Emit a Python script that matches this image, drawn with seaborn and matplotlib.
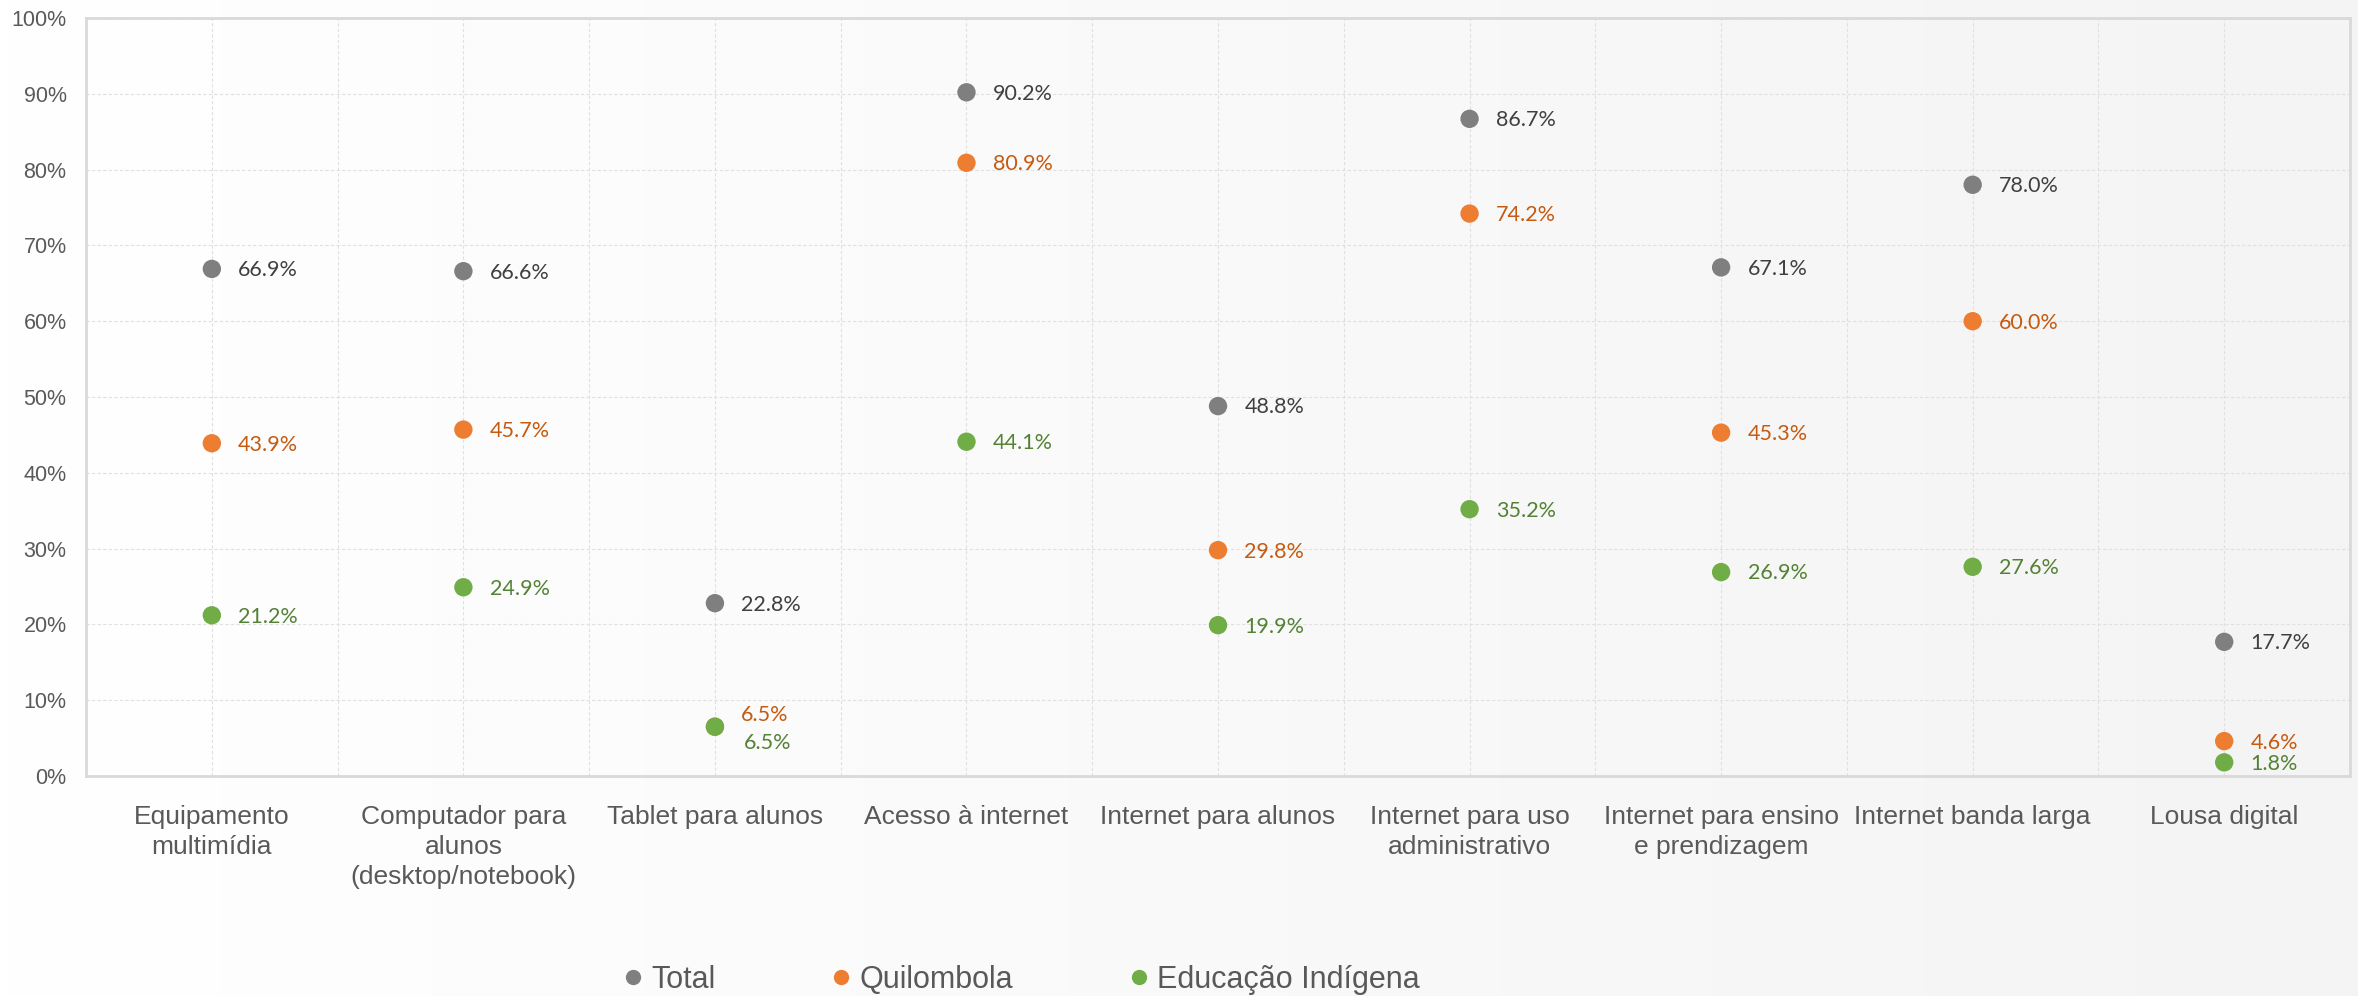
import numpy as np
import pandas as pd
import matplotlib.pyplot as plt
import seaborn as sns
from matplotlib.lines import Line2D
from matplotlib.colors import LinearSegmentedColormap

# Data
categories = ["Equipamento\nmultimídia", "Computador para\nalunos\n(desktop/notebook)",
              "Tablet para alunos", "Acesso à internet", "Internet para alunos",
              "Internet para uso\nadministrativo", "Internet para ensino\ne prendizagem",
              "Internet banda larga", "Lousa digital"]
total = [66.9, 66.6, 22.8, 90.2, 48.8, 86.7, 67.1, 78.0, 17.7]
quilombola = [43.9, 45.7, 6.5, 80.9, 29.8, 74.2, 45.3, 60.0, 4.6]
indigena = [21.2, 24.9, 6.5, 44.1, 19.9, 35.2, 26.9, 27.6, 1.8]
series_names = ["Total", "Quilombola", "Educação Indígena"]

colors = {"Total": "#7f7f7f", "Quilombola": "#ed7d31", "Educação Indígena": "#70ad47"}
label_colors = {"Total": "#404040", "Quilombola": "#c55a11", "Educação Indígena": "#548235"}

rows = []
for name, vals in zip(series_names, [total, quilombola, indigena]):
    for i, v in enumerate(vals):
        rows.append({"pos": i, "value": v, "serie": name})
df = pd.DataFrame(rows)

sns.set_style("white")
plt.rcParams["font.family"] = ["Liberation Sans", "DejaVu Sans"]

fig = plt.figure(figsize=(23.58, 9.96), dpi=100)

# faint background wash (white on the left, light grey on the right)
bg = fig.add_axes([0, 0, 1, 1], zorder=-10)
wash = LinearSegmentedColormap.from_list("wash", ["#ffffff", "#f4f4f4"])
grad = np.linspace(0, 1, 256).reshape(1, -1)
bg.imshow(grad, aspect="auto", cmap=wash, extent=[0, 1, 0, 1])
bg.axis("off")

ax = fig.add_axes([0.0365, 0.2209, 0.9601, 0.761])
ax.set_facecolor("none")

sns.scatterplot(data=df, x="pos", y="value", hue="serie", palette=colors,
                s=175, edgecolor="none", legend=False, ax=ax, zorder=3)

# data labels
offsets = {}
offsets[("Quilombola", 2)] = (19, 8.5)
offsets[("Educação Indígena", 2)] = (21, -11.5)
for name, vals in zip(series_names, [total, quilombola, indigena]):
    for i, v in enumerate(vals):
        dx, dy = offsets.get((name, i), (19, -1))
        ax.annotate(f"{v:.1f}%", (i, v), xytext=(dx, dy), textcoords="offset points",
                    ha="left", va="center", fontsize=15.5, color=label_colors[name],
                    family=["Lato", "DejaVu Sans"], zorder=4)

ax.set_xlim(-0.5, 8.5)
ax.set_ylim(0, 100)
ax.set_xticks(range(len(categories)))
ax.set_xticklabels(categories, fontsize=19, color="#595959", linespacing=1.3)
ax.set_xticks(np.arange(-0.5, 9, 1), minor=True)
ax.set_yticks(range(0, 101, 10))
ax.set_yticklabels([f"{t}%" for t in range(0, 101, 10)], fontsize=15.5, color="#595959")
ax.tick_params(axis="x", which="both", length=0, pad=21)
ax.tick_params(axis="y", length=0, pad=14)
ax.set_xlabel("")
ax.set_ylabel("")

ax.grid(True, which="major", axis="both", color="#e0e0e0", linestyle=(0, (3, 2)), linewidth=0.8)
ax.grid(True, which="minor", axis="x", color="#e0e0e0", linestyle=(0, (3, 2)), linewidth=0.8)
ax.set_axisbelow(True)
for sp in ax.spines.values():
    sp.set_visible(True)
    sp.set_color("#d9d9d9")
    sp.set_linewidth(2)

handles = [Line2D([0], [0], marker="o", linestyle="", markersize=11,
                  markerfacecolor=colors[n], markeredgecolor="none") for n in series_names]
fig.legend(handles, series_names, loc="center", bbox_to_anchor=(0.4334, 0.016), ncol=3,
           frameon=False, fontsize=22, labelcolor="#595959", handlelength=0.6,
           handletextpad=0.3, columnspacing=3.8)

fig.savefig("out.png", dpi=100)
